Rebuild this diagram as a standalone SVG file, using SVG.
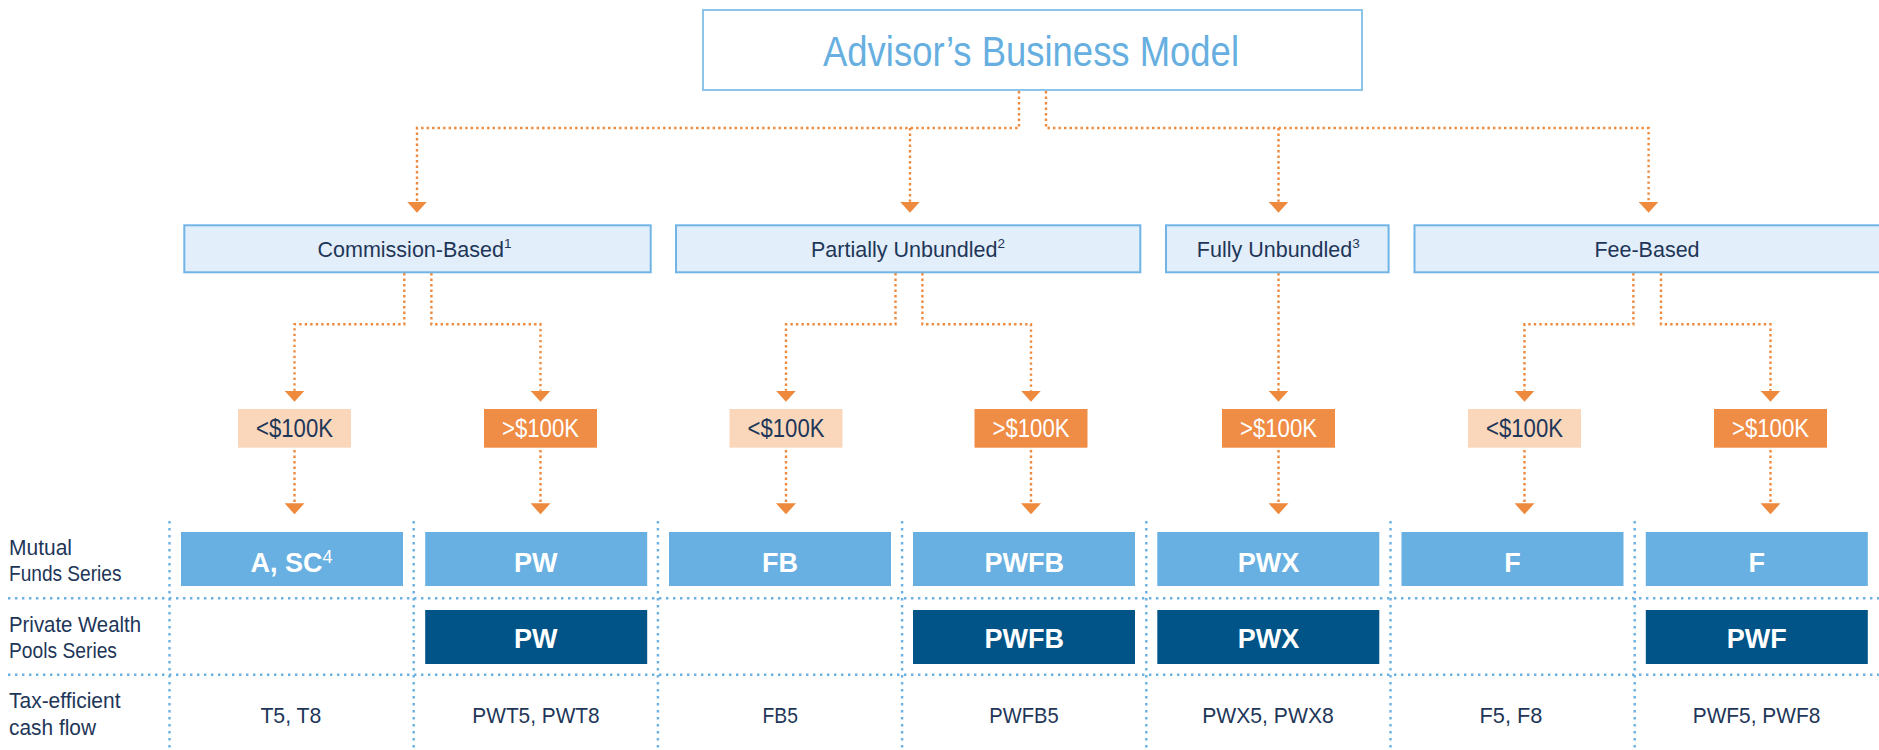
<svg xmlns="http://www.w3.org/2000/svg" width="1879" height="750" viewBox="0 0 1879 750">
<defs>
<style>
text{font-family:"Liberation Sans",Arial,sans-serif;}
.navy{fill:#1e3658;}
.title-box{fill:#ffffff;stroke:#8cc4ea;stroke-width:2;}
.title{fill:#66afe0;font-size:43px;}
.hbox{fill:#e2eef9;stroke:#70b4e6;stroke-width:2;}
.htext{fill:#1e3658;font-size:21.5px;}
.sup{font-size:13.5px;}
.amt-lo{fill:#fad7bb;}
.amt-hi{fill:#ef8c45;}
.amt-text{font-size:25.5px;}
.mf{fill:#68b0e1;}
.pw{fill:#005487;}
.ser{fill:#ffffff;font-size:27px;font-weight:bold;}
.cash{fill:#1e3658;font-size:22.5px;}
.lbl{fill:#1e3658;font-size:22px;}
.conn{fill:none;stroke:#ee8a3e;stroke-width:2.4;stroke-dasharray:2.4 3.1;}
.grid{fill:none;stroke:#6ab0e0;stroke-width:2.4;stroke-dasharray:2.4 4.6;}
</style>
<marker id="arr" viewBox="0 -10 11 20" refX="0" refY="0" markerWidth="11" markerHeight="20" markerUnits="userSpaceOnUse" orient="auto">
<path d="M0,-10 L11,0 L0,10 Z" fill="#ee8a3e"/>
</marker>
</defs>
<rect width="1879" height="750" fill="#ffffff"/>

<g id="grid">
<path class="grid" d="M8,598.3 H1879 M8,674.7 H1879"/>
<path class="grid" d="M169.5,521 V750 M413.7,521 V750 M657.9,521 V750 M902.1,521 V750 M1146.3,521 V750 M1390.5,521 V750 M1634.7,521 V750"/>
</g>

<g id="connectors">
<path class="conn" marker-end="url(#arr)" d="M1019,91 V128 H417 V201.7"/>
<path class="conn" marker-end="url(#arr)" d="M910,128 V201.7"/>
<path class="conn" marker-end="url(#arr)" d="M1046,91 V128 H1648.6 V201.7"/>
<path class="conn" marker-end="url(#arr)" d="M1278.5,128 V201.7"/>

<path class="conn" marker-end="url(#arr)" d="M404.3,273 V324.3 H294.5 V390.7"/>
<path class="conn" marker-end="url(#arr)" d="M431.4,273 V324.3 H540.5 V390.7"/>
<path class="conn" marker-end="url(#arr)" d="M895.5,273 V324.3 H786 V390.7"/>
<path class="conn" marker-end="url(#arr)" d="M922.4,273 V324.3 H1031 V390.7"/>
<path class="conn" marker-end="url(#arr)" d="M1278.5,273 V390.7"/>
<path class="conn" marker-end="url(#arr)" d="M1633.4,273 V324.3 H1524.5 V390.7"/>
<path class="conn" marker-end="url(#arr)" d="M1661,273 V324.3 H1770.5 V390.7"/>

<path class="conn" marker-end="url(#arr)" d="M294.5,450 V503.3"/>
<path class="conn" marker-end="url(#arr)" d="M540.5,450 V503.3"/>
<path class="conn" marker-end="url(#arr)" d="M786,450 V503.3"/>
<path class="conn" marker-end="url(#arr)" d="M1031,450 V503.3"/>
<path class="conn" marker-end="url(#arr)" d="M1278.5,450 V503.3"/>
<path class="conn" marker-end="url(#arr)" d="M1524.5,450 V503.3"/>
<path class="conn" marker-end="url(#arr)" d="M1770.5,450 V503.3"/>
</g>

<g id="title">
<rect class="title-box" x="703" y="10" width="659" height="80"/>
<text class="title" x="823" y="65.7" textLength="416" lengthAdjust="spacingAndGlyphs">Advisor’s Business Model</text>
</g>

<g id="commission-based">
<rect class="hbox" x="184.3" y="225.3" width="466.4" height="47"/>
<text class="htext" x="414.5" y="257.3" text-anchor="middle">Commission-Based<tspan class="sup" dy="-9">1</tspan></text>
</g>
<g id="partially-unbundled">
<rect class="hbox" x="676" y="225.3" width="464.3" height="47"/>
<text class="htext" x="908" y="257.3" text-anchor="middle">Partially Unbundled<tspan class="sup" dy="-9">2</tspan></text>
</g>
<g id="fully-unbundled">
<rect class="hbox" x="1166" y="225.3" width="222.6" height="47"/>
<text class="htext" x="1278.3" y="257.3" text-anchor="middle">Fully Unbundled<tspan class="sup" dy="-9">3</tspan></text>
</g>
<g id="fee-based">
<rect class="hbox" x="1414.5" y="225.3" width="472" height="47"/>
<text class="htext" x="1647" y="257.3" text-anchor="middle">Fee-Based</text>
</g>

<g id="amt-cb-lo"><rect class="amt-lo" x="238" y="409" width="113" height="38.7"/><text class="amt-text navy" x="294.5" y="437.3" text-anchor="middle" textLength="77" lengthAdjust="spacingAndGlyphs">&lt;$100K</text></g>
<g id="amt-cb-hi"><rect class="amt-hi" x="484" y="409" width="113" height="38.7"/><text class="amt-text" fill="#ffffff" x="540.5" y="437.3" text-anchor="middle" textLength="77" lengthAdjust="spacingAndGlyphs">&gt;$100K</text></g>
<g id="amt-pu-lo"><rect class="amt-lo" x="729.5" y="409" width="113" height="38.7"/><text class="amt-text navy" x="786" y="437.3" text-anchor="middle" textLength="77" lengthAdjust="spacingAndGlyphs">&lt;$100K</text></g>
<g id="amt-pu-hi"><rect class="amt-hi" x="974.5" y="409" width="113" height="38.7"/><text class="amt-text" fill="#ffffff" x="1031" y="437.3" text-anchor="middle" textLength="77" lengthAdjust="spacingAndGlyphs">&gt;$100K</text></g>
<g id="amt-fu-hi"><rect class="amt-hi" x="1222" y="409" width="113" height="38.7"/><text class="amt-text" fill="#ffffff" x="1278.5" y="437.3" text-anchor="middle" textLength="77" lengthAdjust="spacingAndGlyphs">&gt;$100K</text></g>
<g id="amt-fb-lo"><rect class="amt-lo" x="1468" y="409" width="113" height="38.7"/><text class="amt-text navy" x="1524.5" y="437.3" text-anchor="middle" textLength="77" lengthAdjust="spacingAndGlyphs">&lt;$100K</text></g>
<g id="amt-fb-hi"><rect class="amt-hi" x="1714" y="409" width="113" height="38.7"/><text class="amt-text" fill="#ffffff" x="1770.5" y="437.3" text-anchor="middle" textLength="77" lengthAdjust="spacingAndGlyphs">&gt;$100K</text></g>

<g id="labels">
<text class="lbl" x="9" y="555" textLength="63" lengthAdjust="spacingAndGlyphs">Mutual</text>
<text class="lbl" x="9" y="580.7" textLength="112.5" lengthAdjust="spacingAndGlyphs">Funds Series</text>
<text class="lbl" x="9" y="631.7" textLength="132" lengthAdjust="spacingAndGlyphs">Private Wealth</text>
<text class="lbl" x="9" y="658.3" textLength="108" lengthAdjust="spacingAndGlyphs">Pools Series</text>
<text class="lbl" x="9" y="708.3" textLength="111.5" lengthAdjust="spacingAndGlyphs">Tax-efficient</text>
<text class="lbl" x="9" y="735" textLength="87" lengthAdjust="spacingAndGlyphs">cash flow</text>
</g>

<g id="col1">
<rect class="mf" x="181" y="532" width="222" height="54"/>
<text class="ser" x="291.6" y="571.7" text-anchor="middle">A, SC<tspan font-size="18" font-weight="normal" dy="-8.5">4</tspan></text>
<text class="cash" x="290.9" y="723.3" text-anchor="middle" textLength="61" lengthAdjust="spacingAndGlyphs">T5, T8</text>
</g>
<g id="col2">
<rect class="mf" x="425.2" y="532" width="222" height="54"/>
<text class="ser" x="535.8" y="571.7" text-anchor="middle">PW</text>
<rect class="pw" x="425.2" y="610" width="222" height="54"/>
<text class="ser" x="535.8" y="648.3" text-anchor="middle">PW</text>
<text class="cash" x="536" y="723.3" text-anchor="middle" textLength="127.3" lengthAdjust="spacingAndGlyphs">PWT5, PWT8</text>
</g>
<g id="col3">
<rect class="mf" x="669" y="532" width="222" height="54"/>
<text class="ser" x="780" y="571.7" text-anchor="middle">FB</text>
<text class="cash" x="780.2" y="723.3" text-anchor="middle" textLength="35.4" lengthAdjust="spacingAndGlyphs">FB5</text>
</g>
<g id="col4">
<rect class="mf" x="913" y="532" width="222" height="54"/>
<text class="ser" x="1024.2" y="571.7" text-anchor="middle">PWFB</text>
<rect class="pw" x="913" y="610" width="222" height="54"/>
<text class="ser" x="1024.2" y="648.3" text-anchor="middle">PWFB</text>
<text class="cash" x="1024" y="723.3" text-anchor="middle" textLength="69.3" lengthAdjust="spacingAndGlyphs">PWFB5</text>
</g>
<g id="col5">
<rect class="mf" x="1157.3" y="532" width="222" height="54"/>
<text class="ser" x="1268.4" y="571.7" text-anchor="middle">PWX</text>
<rect class="pw" x="1157.3" y="610" width="222" height="54"/>
<text class="ser" x="1268.4" y="648.3" text-anchor="middle">PWX</text>
<text class="cash" x="1268" y="723.3" text-anchor="middle" textLength="131.5" lengthAdjust="spacingAndGlyphs">PWX5, PWX8</text>
</g>
<g id="col6">
<rect class="mf" x="1401.5" y="532" width="222" height="54"/>
<text class="ser" x="1512.6" y="571.7" text-anchor="middle">F</text>
<text class="cash" x="1511" y="723.3" text-anchor="middle" textLength="62.9" lengthAdjust="spacingAndGlyphs">F5, F8</text>
</g>
<g id="col7">
<rect class="mf" x="1645.8" y="532" width="222" height="54"/>
<text class="ser" x="1756.8" y="571.7" text-anchor="middle">F</text>
<rect class="pw" x="1645.8" y="610" width="222" height="54"/>
<text class="ser" x="1756.8" y="648.3" text-anchor="middle">PWF</text>
<text class="cash" x="1756.5" y="723.3" text-anchor="middle" textLength="127.5" lengthAdjust="spacingAndGlyphs">PWF5, PWF8</text>
</g>
</svg>
